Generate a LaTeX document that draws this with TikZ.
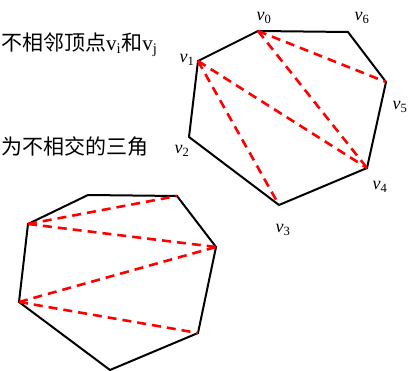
\documentclass[tikz,border=0pt]{standalone}
\usepackage{fontspec}
\setmainfont{Liberation Serif}
\newfontfamily\cjk{Noto Sans CJK SC}
\begin{document}
\begin{tikzpicture}[x=1pt,y=-1pt,
  edge/.style={black,line width=2pt},
  diag/.style={red,line width=2.6pt,dash pattern=on 9pt off 6pt},
  lab/.style={inner sep=0pt,font=\fontsize{18}{18}\selectfont},
  txt/.style={inner sep=0pt,anchor=west,font=\fontsize{21}{21}\selectfont}]
\useasboundingbox (0,0) rectangle (414,371);
% top heptagon
\coordinate (v0) at (258,31);
\coordinate (v6) at (348,32);
\coordinate (v5) at (386,82);
\coordinate (v4) at (367,168);
\coordinate (v3) at (279,205);
\coordinate (v2) at (189,137);
\coordinate (v1) at (198,61);
\draw[edge] (v0) -- (v6) -- (v5) -- (v4) -- (v3) -- (v2) -- (v1) -- cycle;
\draw[diag] (v0) -- (v5);
\draw[diag] (v0) -- (v4);
\draw[diag] (v1) -- (v4);
\draw[diag] (v1) -- (v3);
% labels
\node[lab] (l0) at (264,18) {\textit{v}\textsubscript{0}};
\node[lab] (l6) at (362,18) {\textit{v}\textsubscript{6}};
\node[lab] (l5) at (400,107) {\textit{v}\textsubscript{5}};
\node[lab] (l4) at (380,187) {\textit{v}\textsubscript{4}};
\node[lab] (l3) at (283,230) {\textit{v}\textsubscript{3}};
\node[lab] (l2) at (182,151) {\textit{v}\textsubscript{2}};
\node[lab] (l1) at (187,60) {\textit{v}\textsubscript{1}};
% bottom heptagon
\coordinate (a) at (88,195);
\coordinate (b) at (177,196);
\coordinate (c) at (216,247);
\coordinate (d) at (198,333);
\coordinate (e) at (110,370);
\coordinate (f) at (19,302);
\coordinate (g) at (28,224);
\draw[edge] (a) -- (b) -- (c) -- (d) -- (e) -- (f) -- (g) -- cycle;
\draw[diag] (g) -- (b);
\draw[diag] (g) -- (c);
\draw[diag] (f) -- (c);
\draw[diag] (f) -- (d);
% texts
\node[txt] (t1) at (1,45) {{\cjk 不相邻顶点}v\textsubscript{i}{\cjk 和}v\textsubscript{j}};
\node[txt] (t2) at (1,147) {\cjk 为不相交的三角};
\end{tikzpicture}
\end{document}
